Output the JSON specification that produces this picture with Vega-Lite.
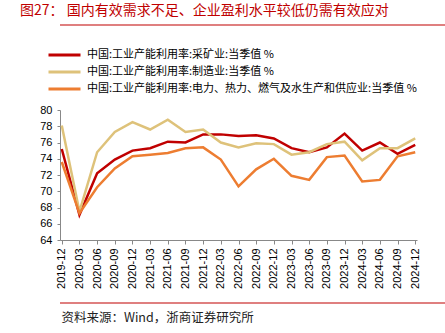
{
  "$schema": "https://vega.github.io/schema/vega-lite/v6.json",
  "padding": {"left": 18, "top": 4, "right": 0, "bottom": 0},
  "background": "white",
  "spacing": 13,
  "resolve": {"scale": {"color": "independent", "x": "independent", "y": "independent"}, "legend": {"color": "independent"}},
  "config": {"font": "Noto Sans CJK SC", "view": {"stroke": null}},
  "title": {
    "text": "图27： 国内有效需求不足、企业盈利水平较低仍需有效应对",
    "anchor": "start",
    "orient": "top",
    "fontSize": 14,
    "fontWeight": "normal",
    "color": "#C00000",
    "font": "Noto Sans CJK SC",
    "offset": 6,
    "dx": 2
  },
  "vconcat": [
    {
      "data": {"values": [{"a": 0, "b": 1, "c": 1}]},
      "mark": {"type": "rule", "color": "#C00000", "strokeWidth": 1.2, "clip": false},
      "width": 410,
      "height": 11,
      "encoding": {
        "x": {"field": "a", "type": "quantitative", "scale": {"domain": [0, 1], "nice": false}, "axis": null},
        "x2": {"field": "b"},
        "y": {"field": "c", "type": "quantitative", "scale": {"domain": [0, 1], "nice": false}, "axis": null}
      }
    },
    {
      "data": {
        "values": [
          {"q": "2019-12", "采矿业": 75.2, "制造业": 78.1, "电力、热力、燃气及水生产和供应业": 73.6},
          {"q": "2020-03", "采矿业": 67.1, "制造业": 67.5, "电力、热力、燃气及水生产和供应业": 67.3},
          {"q": "2020-06", "采矿业": 72.2, "制造业": 74.8, "电力、热力、燃气及水生产和供应业": 70.5},
          {"q": "2020-09", "采矿业": 73.9, "制造业": 77.3, "电力、热力、燃气及水生产和供应业": 72.8},
          {"q": "2020-12", "采矿业": 75.0, "制造业": 78.5, "电力、热力、燃气及水生产和供应业": 74.3},
          {"q": "2021-03", "采矿业": 75.3, "制造业": 77.6, "电力、热力、燃气及水生产和供应业": 74.5},
          {"q": "2021-06", "采矿业": 76.1, "制造业": 78.8, "电力、热力、燃气及水生产和供应业": 74.7},
          {"q": "2021-09", "采矿业": 76.0, "制造业": 77.3, "电力、热力、燃气及水生产和供应业": 75.3},
          {"q": "2021-12", "采矿业": 77.0, "制造业": 77.6, "电力、热力、燃气及水生产和供应业": 75.4},
          {"q": "2022-03", "采矿业": 77.0, "制造业": 76.0, "电力、热力、燃气及水生产和供应业": 73.9},
          {"q": "2022-06", "采矿业": 76.8, "制造业": 75.4, "电力、热力、燃气及水生产和供应业": 70.6},
          {"q": "2022-09", "采矿业": 76.9, "制造业": 75.9, "电力、热力、燃气及水生产和供应业": 72.7},
          {"q": "2022-12", "采矿业": 76.5, "制造业": 75.8, "电力、热力、燃气及水生产和供应业": 74.0},
          {"q": "2023-03", "采矿业": 75.3, "制造业": 74.5, "电力、热力、燃气及水生产和供应业": 71.9},
          {"q": "2023-06", "采矿业": 74.8, "制造业": 74.8, "电力、热力、燃气及水生产和供应业": 71.4},
          {"q": "2023-09", "采矿业": 75.4, "制造业": 75.8, "电力、热力、燃气及水生产和供应业": 74.2},
          {"q": "2023-12", "采矿业": 77.1, "制造业": 76.1, "电力、热力、燃气及水生产和供应业": 74.4},
          {"q": "2024-03", "采矿业": 75.0, "制造业": 73.8, "电力、热力、燃气及水生产和供应业": 71.2},
          {"q": "2024-06", "采矿业": 76.0, "制造业": 75.3, "电力、热力、燃气及水生产和供应业": 71.4},
          {"q": "2024-09", "采矿业": 74.6, "制造业": 75.3, "电力、热力、燃气及水生产和供应业": 74.3},
          {"q": "2024-12", "采矿业": 75.7, "制造业": 76.5, "电力、热力、燃气及水生产和供应业": 74.8}
        ]
      },
      "transform": [
        {"fold": ["采矿业", "制造业", "电力、热力、燃气及水生产和供应业"], "as": ["s", "v"]}
      ],
      "width": 357,
      "height": 130,
      "mark": {"type": "line", "strokeWidth": 2.5},
      "encoding": {
        "x": {
          "field": "q",
          "type": "ordinal",
          "sort": null,
          "scale": {"type": "point", "padding": 0.1},
          "axis": {
            "title": null,
            "labelAngle": -90,
            "labelAlign": "right",
            "labelBaseline": "middle",
            "tickSize": 4,
            "labelPadding": 4,
            "domainColor": "#888888",
            "tickColor": "#888888",
            "labelFontSize": 11,
            "labelFont": "Liberation Sans",
            "labelColor": "#000000"
          }
        },
        "y": {
          "field": "v",
          "type": "quantitative",
          "scale": {"domain": [64, 80], "nice": false, "zero": false},
          "axis": {
            "values": [64, 66, 68, 70, 72, 74, 76, 78, 80],
            "grid": false,
            "domainColor": "#888888",
            "tickColor": "#888888",
            "tickSize": 3,
            "labelPadding": 5,
            "labelFontSize": 11,
            "labelFont": "Liberation Sans",
            "labelColor": "#000000",
            "title": " ",
            "titleX": -42,
            "titleY": 0,
            "titleAngle": 0,
            "titleAlign": "left",
            "titleBaseline": "top",
            "titleFontSize": 6
          }
        },
        "color": {
          "field": "s",
          "type": "nominal",
          "scale": {
            "domain": ["采矿业", "制造业", "电力、热力、燃气及水生产和供应业"],
            "range": ["#C00000", "#DEC27A", "#ED7D31"]
          },
          "legend": {
            "orient": "none",
            "legendX": -13,
            "legendY": -61,
            "direction": "vertical",
            "title": null,
            "symbolType": "stroke",
            "symbolSize": 1024,
            "symbolStrokeWidth": 3,
            "clipHeight": 12,
            "rowPadding": 5,
            "labelOffset": 5,
            "labelFontSize": 11,
            "labelFont": "Noto Sans CJK SC",
            "labelColor": "#000000",
            "labelLimit": 0,
            "labelExpr": "'中国:工业产能利用率:' + datum.label + ':当季值 %'"
          }
        }
      }
    },
    {
      "data": {"values": [{"a": 0, "b": 1, "c": 1}]},
      "mark": {"type": "rule", "color": "#C00000", "strokeWidth": 1.2, "clip": false},
      "width": 410,
      "height": 4,
      "encoding": {
        "x": {"field": "a", "type": "quantitative", "scale": {"domain": [0, 1], "nice": false}, "axis": null},
        "x2": {"field": "b"},
        "y": {"field": "c", "type": "quantitative", "scale": {"domain": [0, 1], "nice": false}, "axis": null}
      },
      "title": {
        "text": "资料来源：Wind，浙商证券研究所",
        "anchor": "start",
        "orient": "bottom",
        "fontSize": 12.5,
        "fontWeight": "normal",
        "color": "#222222",
        "font": "Noto Sans CJK SC",
        "offset": 5,
        "dx": 2
      }
    }
  ]
}
